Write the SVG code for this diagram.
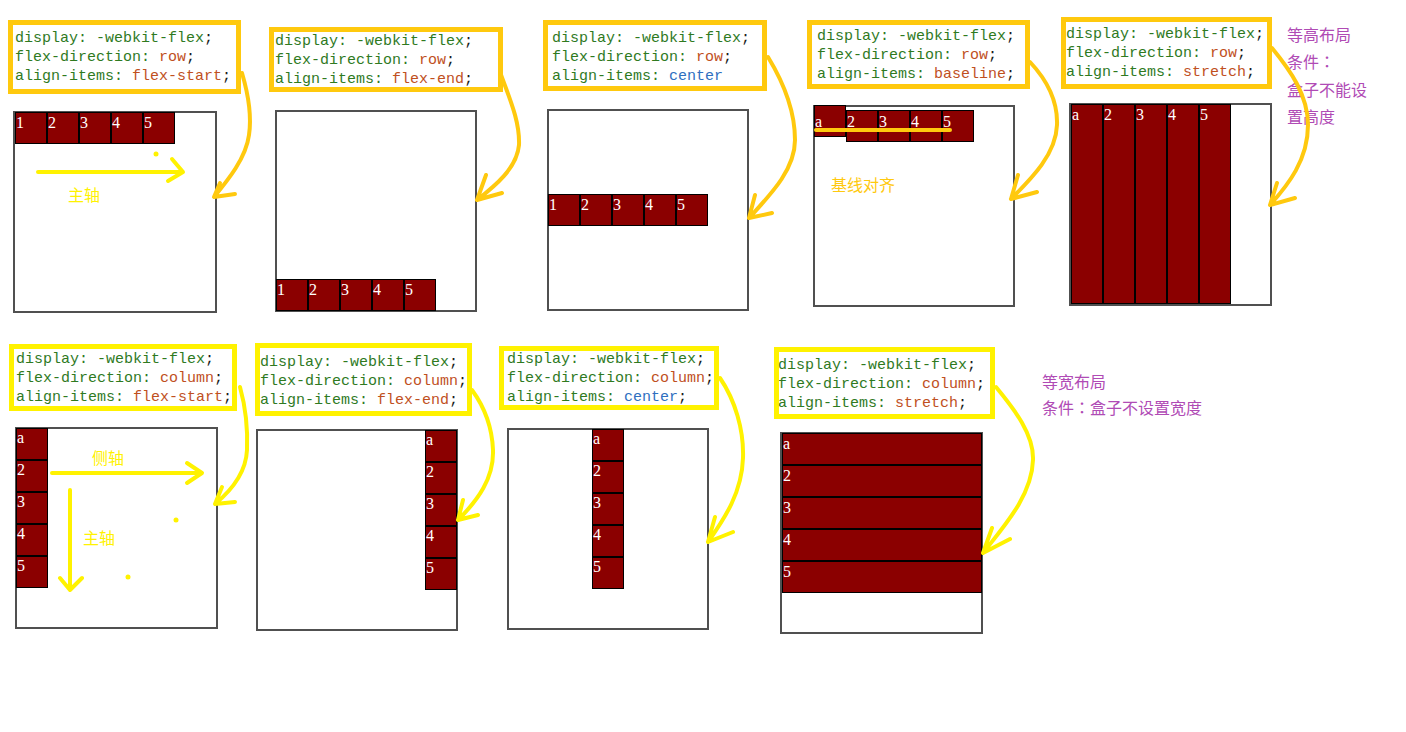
<svg xmlns="http://www.w3.org/2000/svg" width="1406" height="732" viewBox="0 0 1406 732">
<style>
.bg{fill:#fff}
.code{font-family:"Liberation Mono","DejaVu Sans Mono",monospace;font-size:15px}
.p{fill:#2F7A1F}
.v{fill:#C0501E}
.b{fill:#2F6FBF}
.k{fill:#1a1a1a}
.cb1{fill:#fff;stroke:#FFC90E;stroke-width:5}
.cb2{fill:#fff;stroke:#FFF200;stroke-width:5}
.box{fill:#fff;stroke:#505050;stroke-width:2}
.it{fill:#8B0000;stroke:#000;stroke-width:1}
.num{font-family:"Liberation Serif","DejaVu Serif",serif;font-size:16px;fill:#fff}
.cn{font-family:"Noto Sans CJK SC",sans-serif;font-size:16px}
.tc{font-family:"Noto Sans CJK TC",sans-serif}
.pur{fill:#B04BB5}
.y1{fill:none;stroke:#FFC90E;stroke-width:4;stroke-linecap:round;stroke-linejoin:round}
.y2{fill:none;stroke:#FFF200;stroke-width:4;stroke-linecap:round;stroke-linejoin:round}
</style>
<rect class="bg" x="0" y="0" width="1406" height="732"/>

<g id="panel1">
<rect class="cb1" x="10.5" y="22.5" width="228" height="69"/>
<text class="code" x="15" y="42"><tspan class="p">display: -webkit-flex</tspan><tspan class="k">;</tspan></text>
<text class="code" x="15" y="61"><tspan class="p">flex-direction: </tspan><tspan class="v">row</tspan><tspan class="k">;</tspan></text>
<text class="code" x="15" y="80"><tspan class="p">align-items: </tspan><tspan class="v">flex-start</tspan><tspan class="k">;</tspan></text>
<rect class="box" x="14" y="112" width="202" height="200"/>
<rect class="it" x="15.5" y="112.5" width="31" height="31"/><text class="num" x="16" y="128">1</text>
<rect class="it" x="47.5" y="112.5" width="31" height="31"/><text class="num" x="48" y="128">2</text>
<rect class="it" x="79.5" y="112.5" width="31" height="31"/><text class="num" x="80" y="128">3</text>
<rect class="it" x="111.5" y="112.5" width="31" height="31"/><text class="num" x="112" y="128">4</text>
<rect class="it" x="143.5" y="112.5" width="31" height="31"/><text class="num" x="144" y="128">5</text>
<path class="y2" d="M38,172 L183,172 M172,159 L183,172 L168,181"/>
<circle cx="156" cy="154" r="2.5" fill="#FFF200"/>
<text class="cn" x="68" y="201" fill="#FFF200">主轴</text>
</g>

<g id="panel2">
<rect class="cb1" x="271.5" y="29.5" width="229" height="60"/>
<text class="code" x="275" y="45"><tspan class="p">display: -webkit-flex</tspan><tspan class="k">;</tspan></text>
<text class="code" x="275" y="64"><tspan class="p">flex-direction: </tspan><tspan class="v">row</tspan><tspan class="k">;</tspan></text>
<text class="code" x="275" y="83"><tspan class="p">align-items: </tspan><tspan class="v">flex-end</tspan><tspan class="k">;</tspan></text>
<rect class="box" x="276" y="111" width="200" height="200"/>
<rect class="it" x="276.5" y="279.5" width="31" height="31"/><text class="num" x="277" y="295">1</text>
<rect class="it" x="308.5" y="279.5" width="31" height="31"/><text class="num" x="309" y="295">2</text>
<rect class="it" x="340.5" y="279.5" width="31" height="31"/><text class="num" x="341" y="295">3</text>
<rect class="it" x="372.5" y="279.5" width="31" height="31"/><text class="num" x="373" y="295">4</text>
<rect class="it" x="404.5" y="279.5" width="31" height="31"/><text class="num" x="405" y="295">5</text>
</g>

<g id="panel3">
<rect class="cb1" x="545.5" y="22.5" width="219" height="66"/>
<text class="code" x="552" y="42"><tspan class="p">display: -webkit-flex</tspan><tspan class="k">;</tspan></text>
<text class="code" x="552" y="61"><tspan class="p">flex-direction: </tspan><tspan class="v">row</tspan><tspan class="k">;</tspan></text>
<text class="code" x="552" y="80"><tspan class="p">align-items: </tspan><tspan class="b">center</tspan></text>
<rect class="box" x="548" y="110" width="200" height="200"/>
<rect class="it" x="548.5" y="194.5" width="31" height="31"/><text class="num" x="549" y="210">1</text>
<rect class="it" x="580.5" y="194.5" width="31" height="31"/><text class="num" x="581" y="210">2</text>
<rect class="it" x="612.5" y="194.5" width="31" height="31"/><text class="num" x="613" y="210">3</text>
<rect class="it" x="644.5" y="194.5" width="31" height="31"/><text class="num" x="645" y="210">4</text>
<rect class="it" x="676.5" y="194.5" width="31" height="31"/><text class="num" x="677" y="210">5</text>
</g>

<g id="panel4">
<rect class="cb1" x="809.5" y="22.5" width="218" height="64"/>
<text class="code" x="817" y="40"><tspan class="p">display: -webkit-flex</tspan><tspan class="k">;</tspan></text>
<text class="code" x="817" y="59"><tspan class="p">flex-direction: </tspan><tspan class="v">row</tspan><tspan class="k">;</tspan></text>
<text class="code" x="817" y="78"><tspan class="p">align-items: </tspan><tspan class="v">baseline</tspan><tspan class="k">;</tspan></text>
<rect class="box" x="814" y="106" width="200" height="200"/>
<rect class="it" x="814.5" y="105.5" width="31" height="31"/><text class="num" x="815" y="127">a</text>
<rect class="it" x="846.5" y="110.5" width="31" height="31"/><text class="num" x="847" y="127">2</text>
<rect class="it" x="878.5" y="110.5" width="31" height="31"/><text class="num" x="879" y="127">3</text>
<rect class="it" x="910.5" y="110.5" width="31" height="31"/><text class="num" x="911" y="127">4</text>
<rect class="it" x="942.5" y="110.5" width="31" height="31"/><text class="num" x="943" y="127">5</text>
<path class="y1" d="M816,130 L950,130"/>
<text class="cn" x="831" y="191" fill="#FFC90E">基线对齐</text>
</g>

<g id="panel5">
<rect class="cb1" x="1063.5" y="19.5" width="206" height="67"/>
<text class="code" x="1066" y="38"><tspan class="p">display: -webkit-flex</tspan><tspan class="k">;</tspan></text>
<text class="code" x="1066" y="57"><tspan class="p">flex-direction: </tspan><tspan class="v">row</tspan><tspan class="k">;</tspan></text>
<text class="code" x="1066" y="76"><tspan class="p">align-items: </tspan><tspan class="v">stretch</tspan><tspan class="k">;</tspan></text>
<rect class="box" x="1070" y="104" width="201" height="201"/>
<rect class="it" x="1071.5" y="104.5" width="31" height="199"/><text class="num" x="1072" y="120">a</text>
<rect class="it" x="1103.5" y="104.5" width="31" height="199"/><text class="num" x="1104" y="120">2</text>
<rect class="it" x="1135.5" y="104.5" width="31" height="199"/><text class="num" x="1136" y="120">3</text>
<rect class="it" x="1167.5" y="104.5" width="31" height="199"/><text class="num" x="1168" y="120">4</text>
<rect class="it" x="1199.5" y="104.5" width="31" height="199"/><text class="num" x="1200" y="120">5</text>
<text class="cn pur" x="1287" y="41">等高布局</text>
<text class="cn pur" x="1287" y="68">条件<tspan class="tc">：</tspan></text>
<text class="cn pur" x="1287" y="96">盒子不能设</text>
<text class="cn pur" x="1287" y="123">置高度</text>
</g>

<g id="panel6">
<rect class="cb2" x="11.5" y="346.5" width="223" height="62"/>
<text class="code" x="16" y="363"><tspan class="p">display: -webkit-flex</tspan><tspan class="k">;</tspan></text>
<text class="code" x="16" y="382"><tspan class="p">flex-direction: </tspan><tspan class="v">column</tspan><tspan class="k">;</tspan></text>
<text class="code" x="16" y="401"><tspan class="p">align-items: </tspan><tspan class="v">flex-start</tspan><tspan class="k">;</tspan></text>
<rect class="box" x="16" y="428" width="201" height="200"/>
<rect class="it" x="16.5" y="428.5" width="31" height="31"/><text class="num" x="17" y="443">a</text>
<rect class="it" x="16.5" y="460.5" width="31" height="31"/><text class="num" x="17" y="475">2</text>
<rect class="it" x="16.5" y="492.5" width="31" height="31"/><text class="num" x="17" y="507">3</text>
<rect class="it" x="16.5" y="524.5" width="31" height="31"/><text class="num" x="17" y="539">4</text>
<rect class="it" x="16.5" y="556.5" width="31" height="31"/><text class="num" x="17" y="571">5</text>
<path class="y2" d="M52,473 L202,473 M187,463 L202,473 L187,483"/>
<path class="y2" d="M70,490 L70,590 M60,578 L70,590 L82,578"/>
<circle cx="176" cy="520" r="2.5" fill="#FFF200"/>
<circle cx="128" cy="577" r="2.5" fill="#FFF200"/>
<text class="cn" x="92" y="464" fill="#FFF200">侧轴</text>
<text class="cn" x="83" y="544" fill="#FFF200">主轴</text>
</g>

<g id="panel7">
<rect class="cb2" x="257.5" y="345.5" width="212" height="68"/>
<text class="code" x="260" y="366"><tspan class="p">display: -webkit-flex</tspan><tspan class="k">;</tspan></text>
<text class="code" x="260" y="385"><tspan class="p">flex-direction: </tspan><tspan class="v">column</tspan><tspan class="k">;</tspan></text>
<text class="code" x="260" y="404"><tspan class="p">align-items: </tspan><tspan class="v">flex-end</tspan><tspan class="k">;</tspan></text>
<rect class="box" x="257" y="430" width="200" height="200"/>
<rect class="it" x="425.5" y="430.5" width="31" height="31"/><text class="num" x="426" y="445">a</text>
<rect class="it" x="425.5" y="462.5" width="31" height="31"/><text class="num" x="426" y="477">2</text>
<rect class="it" x="425.5" y="494.5" width="31" height="31"/><text class="num" x="426" y="509">3</text>
<rect class="it" x="425.5" y="526.5" width="31" height="31"/><text class="num" x="426" y="541">4</text>
<rect class="it" x="425.5" y="558.5" width="31" height="31"/><text class="num" x="426" y="573">5</text>
</g>

<g id="panel8">
<rect class="cb2" x="501.5" y="348.5" width="215" height="59"/>
<text class="code" x="507" y="363"><tspan class="p">display: -webkit-flex</tspan><tspan class="k">;</tspan></text>
<text class="code" x="507" y="382"><tspan class="p">flex-direction: </tspan><tspan class="v">column</tspan><tspan class="k">;</tspan></text>
<text class="code" x="507" y="401"><tspan class="p">align-items: </tspan><tspan class="b">center</tspan><tspan class="k">;</tspan></text>
<rect class="box" x="508" y="429" width="200" height="200"/>
<rect class="it" x="592.5" y="429.5" width="31" height="31"/><text class="num" x="593" y="444">a</text>
<rect class="it" x="592.5" y="461.5" width="31" height="31"/><text class="num" x="593" y="476">2</text>
<rect class="it" x="592.5" y="493.5" width="31" height="31"/><text class="num" x="593" y="508">3</text>
<rect class="it" x="592.5" y="525.5" width="31" height="31"/><text class="num" x="593" y="540">4</text>
<rect class="it" x="592.5" y="557.5" width="31" height="31"/><text class="num" x="593" y="572">5</text>
</g>

<g id="panel9">
<rect class="cb2" x="776.5" y="349.5" width="216" height="67"/>
<text class="code" x="778" y="369"><tspan class="p">display: -webkit-flex</tspan><tspan class="k">;</tspan></text>
<text class="code" x="778" y="388"><tspan class="p">flex-direction: </tspan><tspan class="v">column</tspan><tspan class="k">;</tspan></text>
<text class="code" x="778" y="407"><tspan class="p">align-items: </tspan><tspan class="v">stretch</tspan><tspan class="k">;</tspan></text>
<rect class="box" x="781" y="433" width="201" height="200"/>
<rect class="it" x="782.5" y="433.5" width="199" height="31"/><text class="num" x="783" y="449">a</text>
<rect class="it" x="782.5" y="465.5" width="199" height="31"/><text class="num" x="783" y="481">2</text>
<rect class="it" x="782.5" y="497.5" width="199" height="31"/><text class="num" x="783" y="513">3</text>
<rect class="it" x="782.5" y="529.5" width="199" height="31"/><text class="num" x="783" y="545">4</text>
<rect class="it" x="782.5" y="561.5" width="199" height="31"/><text class="num" x="783" y="577">5</text>
<text class="cn pur" x="1042" y="388">等宽布局</text>
<text class="cn pur" x="1042" y="414">条件<tspan class="tc">：</tspan>盒子不设置宽度</text>
</g>

<g id="connectors">
<path class="y1" d="M242,73 C247,90 252,115 249,135 C246,158 228,180 214,197 M220,183 L214,197 L235,194"/>
<path class="y1" d="M500,72 C508,95 520,120 519,145 C517,168 495,186 477,200 M486,175 L477,200 L502,193"/>
<path class="y1" d="M768,57 C782,80 795,110 795,140 C795,170 770,195 749,218 M755,195 L749,218 L772,213"/>
<path class="y1" d="M1030,62 C1045,78 1058,100 1057,125 C1056,155 1030,180 1011,199 M1018,175 L1011,199 L1037,192"/>
<path class="y1" d="M1272,48 C1290,70 1308,95 1308,125 C1308,160 1288,185 1270,205 M1277,183 L1270,205 L1295,198"/>
<path class="y2" d="M240,387 C245,405 248,425 247,450 C246,472 232,490 215,504 M222,487 L215,504 L235,502"/>
<path class="y2" d="M472,390 C483,405 492,425 493,450 C494,478 478,500 458,520 M463,500 L458,520 L478,515"/>
<path class="y2" d="M720,378 C735,400 744,430 743,458 C742,492 725,518 708,542 M715,517 L708,542 L733,532"/>
<path class="y2" d="M996,387 C1015,410 1034,435 1033,460 C1032,495 1005,525 983,553 M992,528 L983,553 L1010,539"/>
</g>
</svg>
